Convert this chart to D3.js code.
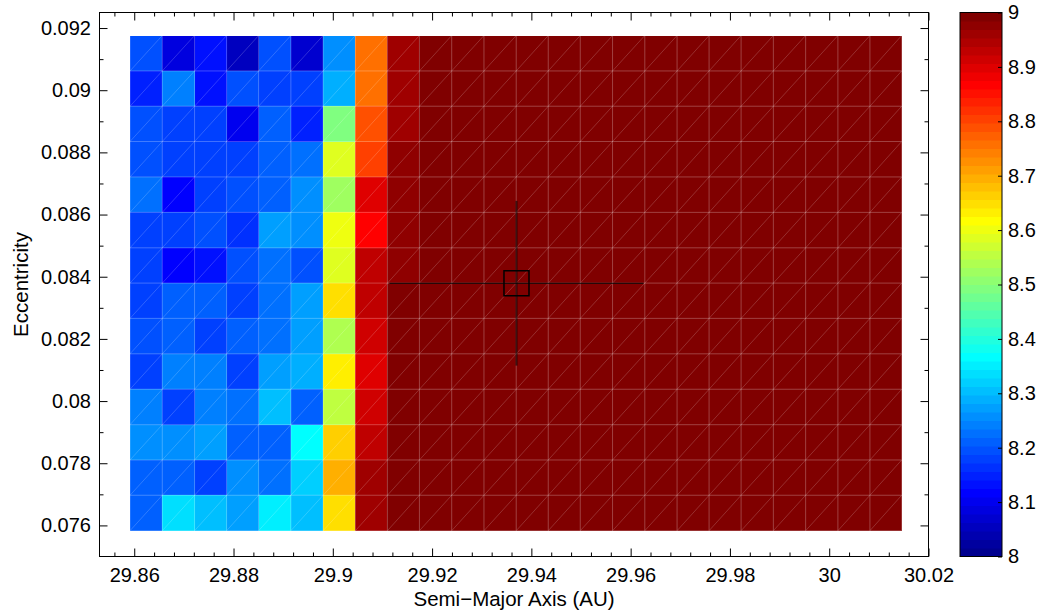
<!DOCTYPE html>
<html>
<head>
<meta charset="utf-8">
<script src="https://cdn.jsdelivr.net/npm/d3@7"></script>
<style>
    body { margin: 0; background: #fff; }
    text { font-family: "Liberation Sans", Arial, Helvetica, sans-serif; fill: #000; }
</style>
</head>
<body>
<div id="chart"></div>
<script>
// grid centres (semi-major axis, eccentricity top -> bottom)
const aGrid = [29.8624, 29.8689, 29.8754, 29.8818, 29.8883, 29.8948, 29.9013, 29.9078,
    29.9142, 29.9207, 29.9272, 29.9337, 29.9402, 29.9466, 29.9531, 29.9596,
    29.9661, 29.9726, 29.9790, 29.9855, 29.9920, 29.9985, 30.0050, 30.0114];
const eGrid = [0.09119, 0.09005, 0.08892, 0.08778, 0.08664, 0.08550, 0.08436,
    0.08323, 0.08209, 0.08095, 0.07981, 0.07867, 0.07754, 0.07640];

// cell values, one row per eccentricity (top -> bottom)
const cellValues = [
    [8.195, 8.086, 8.133, 8.055, 8.195, 8.070, 8.258, 8.758, 8.960, 9, 9, 9, 9, 9, 9, 9, 9, 9, 9, 9, 9, 9, 9, 9],
    [8.148, 8.242, 8.133, 8.195, 8.180, 8.180, 8.289, 8.758, 8.960, 9, 9, 9, 9, 9, 9, 9, 9, 9, 9, 9, 9, 9, 9, 9],
    [8.195, 8.180, 8.180, 8.102, 8.211, 8.148, 8.492, 8.789, 8.960, 9, 9, 9, 9, 9, 9, 9, 9, 9, 9, 9, 9, 9, 9, 9],
    [8.195, 8.180, 8.180, 8.180, 8.211, 8.227, 8.586, 8.805, 8.975, 9, 9, 9, 9, 9, 9, 9, 9, 9, 9, 9, 9, 9, 9, 9],
    [8.227, 8.117, 8.180, 8.195, 8.211, 8.258, 8.523, 8.898, 8.975, 9, 9, 9, 9, 9, 9, 9, 9, 9, 9, 9, 9, 9, 9, 9],
    [8.180, 8.180, 8.195, 8.164, 8.273, 8.258, 8.602, 8.867, 8.975, 9, 9, 9, 9, 9, 9, 9, 9, 9, 9, 9, 9, 9, 9, 9],
    [8.180, 8.117, 8.133, 8.195, 8.227, 8.195, 8.586, 8.930, 8.975, 9, 9, 9, 9, 9, 9, 9, 9, 9, 9, 9, 9, 9, 9, 9],
    [8.180, 8.211, 8.211, 8.180, 8.227, 8.273, 8.648, 8.930, 8.990, 9, 9, 9, 9, 9, 9, 9, 9, 9, 9, 9, 9, 9, 9, 9],
    [8.195, 8.211, 8.180, 8.211, 8.227, 8.273, 8.539, 8.914, 8.990, 9, 9, 9, 9, 9, 9, 9, 9, 9, 9, 9, 9, 9, 9, 9],
    [8.180, 8.242, 8.242, 8.180, 8.273, 8.289, 8.633, 8.898, 8.990, 9, 9, 9, 9, 9, 9, 9, 9, 9, 9, 9, 9, 9, 9, 9],
    [8.242, 8.180, 8.242, 8.227, 8.305, 8.211, 8.555, 8.914, 8.990, 9, 9, 9, 9, 9, 9, 9, 9, 9, 9, 9, 9, 9, 9, 9],
    [8.258, 8.258, 8.273, 8.211, 8.211, 8.367, 8.664, 8.930, 8.990, 9, 9, 9, 9, 9, 9, 9, 9, 9, 9, 9, 9, 9, 9, 9],
    [8.211, 8.211, 8.180, 8.258, 8.227, 8.320, 8.695, 8.960, 8.990, 9, 9, 9, 9, 9, 9, 9, 9, 9, 9, 9, 9, 9, 9, 9],
    [8.211, 8.336, 8.305, 8.273, 8.352, 8.305, 8.648, 8.960, 8.990, 9, 9, 9, 9, 9, 9, 9, 9, 9, 9, 9, 9, 9, 9, 9]
];

// best fit with error bars
const bestA = 29.937, bestE = 0.08379;
const errA = 0.0256, errE = 0.00265;

// ticks
const xTicks = [29.86, 29.88, 29.9, 29.92, 29.94, 29.96, 29.98, 30, 30.02];
const yTicks = [0.076, 0.078, 0.08, 0.082, 0.084, 0.086, 0.088, 0.09, 0.092];
const cbTicks = [8, 8.1, 8.2, 8.3, 8.4, 8.5, 8.6, 8.7, 8.8, 8.9, 9];

const svgWidth = 1039;
const svgHeight = 613;

const plot = { left: 99.5, top: 12.5, right: 928.5, bottom: 556.5 };
const cbar = { left: 960, right: 1002, top: 12.5, bottom: 556.5 };

// MATLAB jet(64)
function jet64() {
    const n = 16, m = 64;
    const u = [...d3.range(1, n + 1).map(k => k / n), ...Array(n - 1).fill(1), ...d3.range(n, 0, -1).map(k => k / n)];
    const g0 = Math.ceil(n / 2) - (m % 4 === 1 ? 1 : 0);
    const cmap = d3.range(m).map(() => [0, 0, 0]);
    u.forEach((val, k) => {
        const gi = g0 + k, ri = gi + n, bi = gi - n;
        if (gi < m) cmap[gi][1] = val;
        if (ri < m) cmap[ri][0] = val;
        if (bi >= 0) cmap[bi][2] = val;
    });
    return cmap.map(c => d3.rgb(c[0] * 255, c[1] * 255, c[2] * 255).formatHex());
}
const jet = jet64();
const cmin = 8, cmax = 9;
const colorOf = v => jet[Math.max(0, Math.min(63, Math.floor((v - cmin) / (cmax - cmin) * 64)))];

const svg = d3.select('#chart').append('svg')
    .attr('width', svgWidth)
    .attr('height', svgHeight);

const xScale = d3.scaleLinear().domain([29.853, 30.02]).range([plot.left, plot.right]);
const yScale = d3.scaleLinear().domain([0.075, 0.0925]).range([plot.bottom, plot.top]);

// cell edges from the centres
function edgesOf(c) {
    const e = [c[0] - (c[1] - c[0]) / 2];
    for (let i = 0; i < c.length - 1; i++) e.push((c[i] + c[i + 1]) / 2);
    e.push(c[c.length - 1] + (c[c.length - 1] - c[c.length - 2]) / 2);
    return e;
}
const aEdges = edgesOf(aGrid);
const eEdges = edgesOf(eGrid); // top -> bottom

const cells = [];
cellValues.forEach((row, r) => row.forEach((v, c) => cells.push({ r, c, v })));

const cellGroup = svg.append('g');
cellGroup.selectAll('rect')
    .data(cells)
    .join('rect')
    .attr('x', d => xScale(aEdges[d.c]))
    .attr('y', d => yScale(eEdges[d.r]))
    .attr('width', d => xScale(aEdges[d.c + 1]) - xScale(aEdges[d.c]))
    .attr('height', d => yScale(eEdges[d.r + 1]) - yScale(eEdges[d.r]))
    .attr('fill', d => colorOf(d.v))
    .attr('shape-rendering', 'crispEdges');

// diagonal of each cell (triangulated surface look)
cellGroup.selectAll('line.diag')
    .data(cells)
    .join('line')
    .attr('class', 'diag')
    .attr('x1', d => xScale(aEdges[d.c]))
    .attr('y1', d => yScale(eEdges[d.r + 1]))
    .attr('x2', d => xScale(aEdges[d.c + 1]))
    .attr('y2', d => yScale(eEdges[d.r]))
    .attr('stroke', 'rgba(255,255,255,0.3)')
    .attr('stroke-width', 0.6);

// cell borders
const eTop = eEdges[0], eBot = eEdges[eEdges.length - 1];
const aLeft = aEdges[0], aRight = aEdges[aEdges.length - 1];
cellGroup.selectAll('line.vgrid')
    .data(aEdges)
    .join('line')
    .attr('class', 'vgrid')
    .attr('x1', d => xScale(d)).attr('x2', d => xScale(d))
    .attr('y1', yScale(eTop)).attr('y2', yScale(eBot))
    .attr('stroke', 'rgba(255,255,255,0.25)')
    .attr('stroke-width', 1);
cellGroup.selectAll('line.hgrid')
    .data(eEdges)
    .join('line')
    .attr('class', 'hgrid')
    .attr('y1', d => yScale(d)).attr('y2', d => yScale(d))
    .attr('x1', xScale(aLeft)).attr('x2', xScale(aRight))
    .attr('stroke', 'rgba(255,255,255,0.25)')
    .attr('stroke-width', 1);

// best fit marker + error bars
const fit = svg.append('g');
fit.append('line')
    .attr('x1', xScale(bestA - errA)).attr('x2', xScale(bestA + errA))
    .attr('y1', yScale(bestE)).attr('y2', yScale(bestE))
    .attr('stroke', '#000').attr('stroke-width', 1);
fit.append('line')
    .attr('x1', xScale(bestA)).attr('x2', xScale(bestA))
    .attr('y1', yScale(bestE + errE)).attr('y2', yScale(bestE - errE))
    .attr('stroke', '#000').attr('stroke-opacity', 0.6).attr('stroke-width', 2);
fit.append('rect')
    .attr('x', xScale(bestA) - 12.5).attr('y', yScale(bestE) - 12.5)
    .attr('width', 25).attr('height', 25)
    .attr('fill', 'none').attr('stroke', '#000').attr('stroke-width', 1.5);

// axes
const majorLen = 8, minorLen = 4;
const xMinor = d3.range(29.856, 30.0201, 0.004).filter(t => !xTicks.some(m => Math.abs(m - t) < 1e-6));
const yMinor = d3.range(0.077, 0.0925, 0.002);

function styleAxis(g) {
    g.select('.domain').remove();
    g.selectAll('.tick line').attr('stroke', '#000');
    g.selectAll('.tick text').style('font-size', '20px').attr('fill', '#000');
}

svg.append('g')
    .attr('transform', `translate(0,${plot.bottom})`)
    .call(d3.axisBottom(xScale).tickValues(xTicks).tickFormat(d3.format('')).tickSize(-majorLen).tickSizeOuter(0).tickPadding(11))
    .call(styleAxis);
svg.append('g')
    .attr('transform', `translate(0,${plot.bottom})`)
    .call(d3.axisBottom(xScale).tickValues(xMinor).tickFormat('').tickSize(-minorLen).tickSizeOuter(0))
    .call(styleAxis);
svg.append('g')
    .attr('transform', `translate(0,${plot.top})`)
    .call(d3.axisTop(xScale).tickValues(xTicks).tickFormat('').tickSize(-majorLen).tickSizeOuter(0))
    .call(styleAxis);
svg.append('g')
    .attr('transform', `translate(0,${plot.top})`)
    .call(d3.axisTop(xScale).tickValues(xMinor).tickFormat('').tickSize(-minorLen).tickSizeOuter(0))
    .call(styleAxis);

svg.append('g')
    .attr('transform', `translate(${plot.left},0)`)
    .call(d3.axisLeft(yScale).tickValues(yTicks).tickFormat(d3.format('')).tickSize(-majorLen).tickSizeOuter(0).tickPadding(8.5))
    .call(styleAxis);
svg.append('g')
    .attr('transform', `translate(${plot.left},0)`)
    .call(d3.axisLeft(yScale).tickValues(yMinor).tickFormat('').tickSize(-minorLen).tickSizeOuter(0))
    .call(styleAxis);
svg.append('g')
    .attr('transform', `translate(${plot.right},0)`)
    .call(d3.axisRight(yScale).tickValues(yTicks).tickFormat('').tickSize(-majorLen).tickSizeOuter(0))
    .call(styleAxis);
svg.append('g')
    .attr('transform', `translate(${plot.right},0)`)
    .call(d3.axisRight(yScale).tickValues(yMinor).tickFormat('').tickSize(-minorLen).tickSizeOuter(0))
    .call(styleAxis);

// frame
svg.append('rect')
    .attr('x', plot.left).attr('y', plot.top)
    .attr('width', plot.right - plot.left).attr('height', plot.bottom - plot.top)
    .attr('fill', 'none').attr('stroke', '#000').attr('stroke-width', 1);

// axis titles
svg.append('text')
    .attr('x', (plot.left + plot.right) / 2).attr('y', 606)
    .attr('text-anchor', 'middle')
    .style('font-size', '20.5px')
    .text('Semi\u2212Major Axis (AU)');
svg.append('text')
    .attr('transform', `translate(28,${(plot.top + plot.bottom) / 2}) rotate(-90)`)
    .attr('text-anchor', 'middle')
    .style('font-size', '20.5px')
    .text('Eccentricity');

// colorbar
const cScale = d3.scaleLinear().domain([cmin, cmax]).range([cbar.bottom, cbar.top]);
const cbGroup = svg.append('g');
cbGroup.selectAll('rect')
    .data(jet)
    .join('rect')
    .attr('x', cbar.left)
    .attr('width', cbar.right - cbar.left)
    .attr('y', (d, i) => cScale(cmin + (i + 1) / 64 * (cmax - cmin)))
    .attr('height', (d, i) => cScale(cmin + i / 64 * (cmax - cmin)) - cScale(cmin + (i + 1) / 64 * (cmax - cmin)) + 0.5)
    .attr('fill', d => d);

svg.append('g')
    .attr('transform', `translate(${cbar.right},0)`)
    .call(d3.axisRight(cScale).tickValues(cbTicks).tickFormat(d3.format('')).tickSize(-4).tickSizeOuter(0).tickPadding(6))
    .call(styleAxis);

svg.append('rect')
    .attr('x', cbar.left).attr('y', cbar.top)
    .attr('width', cbar.right - cbar.left).attr('height', cbar.bottom - cbar.top)
    .attr('fill', 'none').attr('stroke', '#000').attr('stroke-width', 1);
</script>
</body>
</html>
